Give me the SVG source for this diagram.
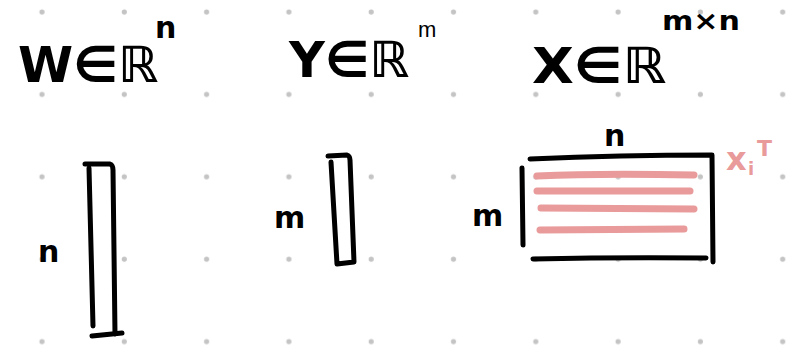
<svg xmlns="http://www.w3.org/2000/svg" width="786" height="349" viewBox="0 0 786 349">
<defs>
<style>
.dot{fill:#c4c4c4}
.ink{fill:none;stroke:#000;stroke-width:5;stroke-linecap:round;stroke-linejoin:round}
.pink{fill:none;stroke:#e99a9a;stroke-width:7;stroke-linecap:round}
.hw{font-family:"DejaVu Sans","Liberation Sans",sans-serif;font-weight:bold;fill:#000}
.hwp{font-family:"DejaVu Sans","Liberation Sans",sans-serif;font-weight:bold;fill:#e99a9a}
.typed{font-family:"Liberation Sans",Arial,sans-serif;fill:#000}
</style>
<pattern id="grid" x="0" y="0" width="82.3" height="82.4" patternUnits="userSpaceOnUse">
<circle class="dot" cx="42" cy="12" r="2.6"/>
</pattern>
</defs>
<rect width="786" height="349" fill="#fff"/>
<g id="dots">
<rect x="0" y="0" width="786" height="349" fill="url(#grid)"/>
</g>
<g id="connectors"/>
<g id="title-w">
<text class="hw" x="18" y="82" font-size="50" textLength="140" lengthAdjust="spacingAndGlyphs">W∈ℝ</text>
<text class="hw" x="155" y="38" font-size="30">n</text>
</g>
<g id="title-y">
<text class="hw" x="289" y="77" font-size="50" textLength="120" lengthAdjust="spacingAndGlyphs">Y∈ℝ</text>
<text class="typed" x="418" y="37" font-size="22">m</text>
</g>
<g id="title-x">
<text class="hw" x="532" y="83" font-size="50" textLength="134" lengthAdjust="spacingAndGlyphs">X∈ℝ</text>
<text class="hw" x="662" y="30" font-size="26" textLength="78" lengthAdjust="spacingAndGlyphs">m×n</text>
</g>
<g id="vector-w">
<path class="ink" d="M85 164 L110 164 Q113 165 113 170 L115 334"/>
<path class="ink" d="M89 168 L93 326"/>
<path class="ink" d="M92 336 L122 333"/>
<text class="hw" x="38" y="262" font-size="30">n</text>
</g>
<g id="vector-y">
<path class="ink" d="M328 156 L347 155 Q350 156 350 160 L354 262 L337 264 L331 162"/>
<text class="hw" x="274" y="228" font-size="30">m</text>
</g>
<g id="matrix-x">
<path class="pink" d="M537 176 Q600 173 694 175"/>
<path class="pink" d="M537 191 L690 191"/>
<path class="pink" d="M541 208 L694 209"/>
<path class="pink" d="M540 230 L684 229"/>
<path class="ink" d="M530 159 Q620 155 712 155 L713 262"/>
<path class="ink" d="M533 259 Q620 257 706 258"/>
<path class="ink" d="M522 168 L523 245"/>
<text class="hw" x="604" y="146" font-size="30">n</text>
<text class="hw" x="472" y="226" font-size="30">m</text>
<text class="hwp" x="726" y="170" font-size="32">x</text>
<text class="hwp" x="748" y="175" font-size="18">i</text>
<text class="hwp" x="757" y="156" font-size="22">T</text>
</g>
</svg>
